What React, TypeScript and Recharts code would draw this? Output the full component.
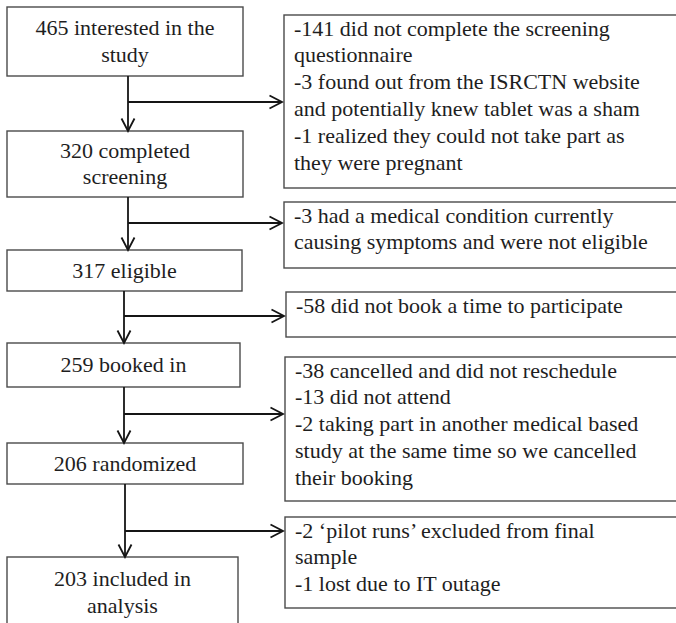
import React from 'react';
import { ComposedChart, XAxis, YAxis, ReferenceArea, ReferenceLine } from 'recharts';

// ---- data ----
const stepCounts = [465, 320, 317, 259, 206, 203];
const stepLabels: string[][] = [
  ['465 interested in the', 'study'],
  ['320 completed', 'screening'],
  ['317 eligible'],
  ['259 booked in'],
  ['206 randomized'],
  ['203 included in', 'analysis'],
];
const exclusionCounts = [145, 3, 58, 53, 3];
const exclusionLines: string[][] = [
  [
    '-141 did not complete the screening',
    'questionnaire',
    '-3 found out from the ISRCTN website',
    'and potentially knew tablet was a sham',
    '-1 realized they could not take part as',
    'they were pregnant',
  ],
  ['-3 had a medical condition currently', 'causing symptoms and were not eligible'],
  ['-58 did not book a time to participate'],
  [
    '-38 cancelled and did not reschedule',
    '-13 did not attend',
    '-2 taking part in another medical based',
    'study at the same time so we cancelled',
    'their booking',
  ],
  ['-2 \u2018pilot runs\u2019 excluded from final', 'sample', '-1 lost due to IT outage'],
];

// ---- layout (chart units == pixels) ----
const W = 676;
const H = 623;
const leftBoxes = [
  { x1: 7, x2: 243, y1: 7, y2: 76 },
  { x1: 7, x2: 243, y1: 131, y2: 197 },
  { x1: 7, x2: 242, y1: 250, y2: 291 },
  { x1: 7, x2: 240, y1: 343, y2: 387 },
  { x1: 7, x2: 243, y1: 443, y2: 484 },
  { x1: 7, x2: 238, y1: 557, y2: 628 },
];
const rightBoxes = [
  { x1: 284, y1: 15, y2: 188 },
  { x1: 284, y1: 202, y2: 268 },
  { x1: 286, y1: 292, y2: 337 },
  { x1: 285, y1: 357, y2: 501 },
  { x1: 285, y1: 517, y2: 608 },
];
const trunkX = [128, 128, 124, 124, 125];
const branchY = [102, 223, 316, 414, 531];

const FONT = '"Liberation Serif", Tinos, "Times New Roman", serif';
const FS = 22;
const PITCH = 26.8;
const TEXT = '#1e1e1e';
const BORDER = '#4a4a4a';
const ARROW = '#151515';

const CSS = `#root svg text.flowtext, svg text.flowtext, .recharts-wrapper text.flowtext { font-family: ${FONT} !important; font-size: ${FS}px !important; }`;

const makeBox = (lines: string[], align: 'center' | 'left') => (p: any) => {
  const { x, y, width, height } = p;
  const n = lines.length;
  const cx = x + width / 2;
  const cy = y + height / 2;
  return (
    <g style={{ fontFamily: FONT }}>
      <rect x={x} y={y} width={width} height={height} fill="#fff" stroke={BORDER} strokeWidth={1.4} />
      {lines.map((t, i) => {
        const by =
          align === 'center'
            ? cy + (i - (n - 1) / 2) * PITCH + FS * 0.32
            : y + 20.5 + i * PITCH;
        return (
          <text
            key={i}
            className="flowtext"
            x={align === 'center' ? cx : x + 10}
            y={by}
            textAnchor={align === 'center' ? 'middle' : 'start'}
            fontFamily={FONT}
            style={{ fontFamily: FONT, fontSize: FS, fill: TEXT }}
          >
            {t}
          </text>
        );
      })}
    </g>
  );
};

const Arrow = (p: any) => {
  const { x1, y1, x2, y2 } = p;
  const dx = x2 - x1;
  const dy = y2 - y1;
  const len = Math.hypot(dx, dy) || 1;
  const ux = dx / len;
  const uy = dy / len;
  const L = 12.5;
  const hw = 6.5;
  const bx = x2 - ux * L;
  const by = y2 - uy * L;
  const px = -uy;
  const py = ux;
  return (
    <g>
      <line x1={x1} y1={y1} x2={x2} y2={y2} stroke={ARROW} strokeWidth={1.8} />
      <polyline
        points={`${bx + px * hw},${by + py * hw} ${x2},${y2} ${bx - px * hw},${by - py * hw}`}
        fill="none"
        stroke={ARROW}
        strokeWidth={1.8}
      />
    </g>
  );
};

const Line0 = (p: any) => (
  <line x1={p.x1} y1={p.y1} x2={p.x2} y2={p.y2} stroke={ARROW} strokeWidth={1.8} />
);

export default function App() {
  const data = stepCounts.map((c, i) => ({ step: i, count: c }));
  return (
    <div style={{ position: 'absolute', left: 0, top: 0, background: '#fff', fontFamily: FONT }}>
      <style>{CSS}</style>
      <ComposedChart
        width={W}
        height={H}
        data={data}
        margin={{ top: 0, right: 0, bottom: 0, left: 0 }}
        style={{ fontFamily: FONT }}
      >
        <XAxis type="number" dataKey="step" domain={[0, W]} allowDataOverflow hide />
        <YAxis type="number" domain={[0, H]} allowDataOverflow reversed hide />
        {trunkX.map((tx, i) => (
          <ReferenceLine
            key={`t${i}`}
            ifOverflow="visible"
            segment={[
              { x: tx, y: leftBoxes[i].y2 },
              { x: tx, y: branchY[i] },
            ]}
            shape={Line0}
          />
        ))}
        {trunkX.map((tx, i) => (
          <ReferenceLine
            key={`v${i}`}
            ifOverflow="visible"
            segment={[
              { x: tx, y: branchY[i] },
              { x: tx, y: leftBoxes[i + 1].y1 },
            ]}
            shape={Arrow}
          />
        ))}
        {trunkX.map((tx, i) => (
          <ReferenceLine
            key={`h${i}`}
            ifOverflow="visible"
            segment={[
              { x: tx, y: branchY[i] },
              { x: rightBoxes[i].x1 - 2, y: branchY[i] },
            ]}
            shape={Arrow}
          />
        ))}
        {stepLabels.map((lines, i) => (
          <ReferenceArea
            key={`l${i}`}
            ifOverflow="visible"
            x1={leftBoxes[i].x1}
            x2={leftBoxes[i].x2}
            y1={leftBoxes[i].y1}
            y2={leftBoxes[i].y2}
            shape={makeBox(lines, 'center')}
          />
        ))}
        {exclusionLines.map((lines, i) => (
          <ReferenceArea
            key={`r${i}`}
            ifOverflow="visible"
            x1={rightBoxes[i].x1}
            x2={W + 3}
            y1={rightBoxes[i].y1}
            y2={rightBoxes[i].y2}
            shape={makeBox(lines, 'left')}
          />
        ))}
      </ComposedChart>
    </div>
  );
}
